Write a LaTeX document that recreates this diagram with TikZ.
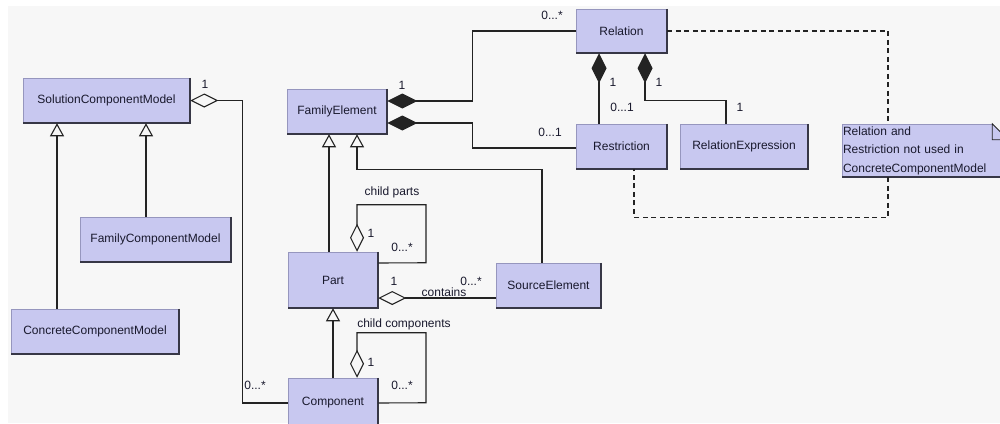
\documentclass[tikz,border=0pt]{standalone}
\usepackage{fontspec}
\setmainfont{Liberation Sans}
\usetikzlibrary{positioning,arrows.meta}
\definecolor{boxfill}{RGB}{200,200,240}
\definecolor{boxedge}{RGB}{150,150,190}
\definecolor{bgcol}{RGB}{247,247,247}
\definecolor{shadecol}{RGB}{55,55,70}
\definecolor{linecol}{RGB}{35,35,35}
\definecolor{txtcol}{RGB}{25,25,45}

\begin{document}
\begin{tikzpicture}[x=1pt,y=-1pt,
box/.style={draw=boxedge,line width=0.5pt,fill=boxfill,rectangle,minimum height=45pt,inner sep=0pt,font=\fontsize{12}{14}\selectfont,text=txtcol},
lbl/.style={font=\fontsize{12}{14}\selectfont,text=txtcol,inner sep=0pt},
edgeshade/.style={draw=shadecol,line width=1.6pt},
assoc/.style={draw=linecol,line width=1.1pt},
gen/.style={assoc,-{Triangle[open,length=13pt,width=14pt]}},
aggr/.style={assoc,{Diamond[open,length=28pt,width=14pt]}-},
compo/.style={assoc,{Diamond[length=30pt,width=15pt]}-},
anchorline/.style={draw=linecol,line width=1.3pt,dash pattern=on 5pt off 3.5pt}]
\useasboundingbox (0,0) rectangle (1000,423);
\fill[white] (0,0) rectangle (1000,423);
\fill[bgcol] (8,6) rectangle (1000,423);

\node (scm) [box,minimum width=167pt] at (106.5,100.5) {SolutionComponentModel};
\node (fcm) [box,minimum width=151pt] at (155.5,239.5) {FamilyComponentModel};
\node (ccm) [box,minimum width=168pt] at (95,331.5) {ConcreteComponentModel};
\node (fe) [box,minimum width=100pt] at (337,111.5) {FamilyElement};
\node (part) [box,minimum width=90pt,minimum height=56pt] at (333,280) {Part};
\node (comp) [box,minimum width=90pt,minimum height=50pt] at (333,403) {Component};
\node (src) [box,minimum width=105pt] at (548.5,285.5) {SourceElement};
\node (rel) [box,minimum width=91pt,minimum height=44pt] at (621.5,31) {Relation};
\node (restr) [box,minimum width=91pt] at (621.5,146.5) {Restriction};
\node (relexp) [box,minimum width=128pt] at (744,146.5) {RelationExpression};
\node (note) [box,minimum height=53pt,inner xsep=1pt,text width=164pt,align=left,
    font=\fontsize{12}{18.5}\selectfont] at (925,150.5)
    {Relation and\\Restriction not used in\\ConcreteComponentModel};
\fill[bgcol] ([xshift=-16pt]note.north east) -- ([xshift=1pt]note.north east) -- ([yshift=-16pt]note.north east) -- cycle;
\draw[draw=linecol,line width=0.8pt] ([xshift=-16pt]note.north east) -- ([xshift=-16pt,yshift=-16pt]note.north east)
    -- ([yshift=-16pt]note.north east) -- cycle;

\foreach \n in {scm,fcm,ccm,fe,part,comp,src,rel,restr,relexp}
    \draw[edgeshade] (\n.north east) -- (\n.south east) -- (\n.south west);
\draw[edgeshade] (note.south east) -- (note.south west);

\coordinate (k1) at ([xshift=52pt]scm.east);
\draw[aggr] (scm.east) -| (k1) |- (comp.west);

\coordinate (g1) at ([xshift=-9.5pt]fcm.north);
\coordinate (g2) at ([xshift=-38pt]ccm.north);
\coordinate (g3) at ([xshift=-4pt]part.north);
\coordinate (g4) at ([xshift=-6.5pt]src.north);
\coordinate (g5) at ([xshift=20pt]fe.south);
\draw[gen] (g1) -- (g1 |- scm.south);
\draw[gen] (g2) -- (g2 |- scm.south);
\draw[gen] (g3) -- (g3 |- fe.south);
\draw[gen] (g4) -- ++(0,-93) -| (g5);
\draw[gen] (comp.north) -- (part.south);

\coordinate (p1) at ([xshift=24pt]part.north);
\draw[aggr] (p1) -- ++(0,-47) -| ++(69,58) -- ([yshift=17pt]part.east);
\coordinate (c1) at ([xshift=24pt]comp.north);
\draw[aggr] (c1) -- ++(0,-45) -| ++(69,70) -- (comp.east);
\coordinate (q1) at ([yshift=-18pt]part.east);
\draw[aggr] (q1) -- (q1 -| src.west);

\coordinate (f1) at ([yshift=10.5pt]fe.east);
\coordinate (f2) at ([yshift=-11.5pt]fe.east);
\draw[compo] (f1) -- ++(85,0) |- (rel.west);
\draw[compo] (f2) -- ++(85,0) |- ([yshift=-1.5pt]restr.west);

\coordinate (r1) at ([xshift=-22.5pt]rel.south);
\coordinate (r2) at ([xshift=23.5pt]rel.south);
\draw[compo] (r1) -- (r1 |- restr.north);
\draw[compo] (r2) -- ++(0,47) -| ([xshift=-18pt]relexp.north);

\coordinate (n1) at ([xshift=-37pt]note.north);
\coordinate (n2) at ([xshift=12.5pt]restr.south);
\draw[anchorline] (rel.east) -| (n1);
\draw[anchorline] (n1 |- note.south) -- ++(0,40) -| (n2);

\node (m1) [lbl] at (205,84) {1};
\node (m2) [lbl] at (255,385) {0...*};
\node (m3) [lbl] at (402,85) {1};
\node (m4) [lbl] at (552,15) {0...*};
\node (m5) [lbl] at (550,132) {0...1};
\node (m6) [lbl] at (613,82) {1};
\node (m7) [lbl] at (622,107) {0...1};
\node (m8) [lbl] at (659,82) {1};
\node (m9) [lbl] at (740,107) {1};
\node (m10) [lbl] at (392,192) {child parts};
\node (m11) [lbl] at (371,233) {1};
\node (m12) [lbl] at (402,247) {0...*};
\node (m13) [lbl] at (394,281) {1};
\node (m14) [lbl] at (471,281) {0...*};
\node (m15) [lbl] at (444,292) {contains};
\node (m16) [lbl] at (404,324) {child components};
\node (m17) [lbl] at (371,362) {1};
\node (m18) [lbl] at (402,385) {0...*};
\end{tikzpicture}
\end{document}
